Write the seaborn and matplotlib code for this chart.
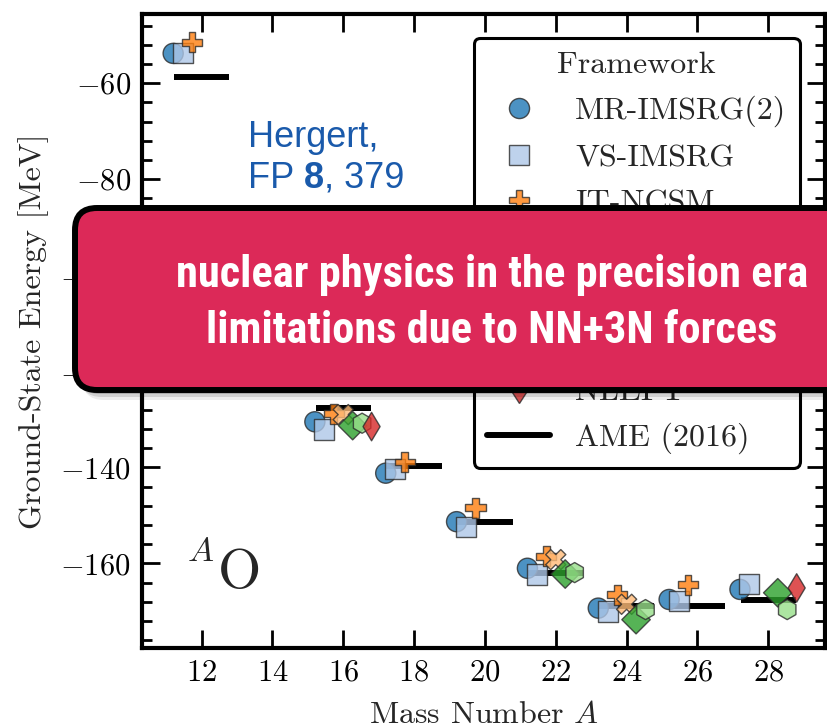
import numpy as np
import pandas as pd
import matplotlib
matplotlib.use("Agg")
import matplotlib.pyplot as plt
import seaborn as sns
from matplotlib.patches import FancyBboxPatch
from matplotlib.lines import Line2D
from matplotlib.ticker import MultipleLocator, AutoMinorLocator
from matplotlib.transforms import IdentityTransform

# ---------------- data ----------------
nan = np.nan
mass_numbers = [12, 14, 16, 18, 20, 22, 24, 26, 28]
mr_imsrg2 = [-53.8, -100.5, -130.5, -141.2, -151.3, -161.0, -169.3, -167.5, -165.4]
vs_imsrg = [-53.8, -101.5, -132.1, -140.4, -152.4, -162.3, -170.0, -167.9, -164.2]
it_ncsm = [-51.5, -97.0, -128.8, -138.9, -148.4, -158.5, -166.5, -164.4, nan]
cc = [nan, nan, -129.0, nan, nan, -159.2, -168.5, nan, nan]
scgf = [nan, nan, -131.3, nan, nan, -162.2, -171.7, nan, -166.1]
bmbpt = [nan, nan, -130.8, nan, nan, -161.9, -169.6, nan, -169.6]
nleft = [nan, nan, -131.5, nan, nan, nan, nan, nan, -165.1]
ame2016 = [-58.8, -98.7, -127.6, -139.8, -151.4, -162.0, -168.8, -168.9, -167.7]

frameworks = ["MR-IMSRG(2)", "VS-IMSRG", "IT-NCSM", "CCSD(T)", "ADC(3)", "BMBPT(3)", "NLEFT"]
series = [mr_imsrg2, vs_imsrg, it_ncsm, cc, scgf, bmbpt, nleft]

# ---------------- style ----------------
colors = ["#1f77b4", "#aec7e8", "#ff7f0e", "#ffbb78", "#2ca02c", "#98df8a", "#d62728"]
markers = ["o", "s", "P", "X", "D", "h", "d"]
dodge = np.linspace(-0.8, 0.8, len(frameworks))

sns.set_style("ticks")
plt.rcParams.update({
    "font.family": "serif",
    "font.serif": ["cmr10"],
    "mathtext.fontset": "cm",
    "axes.formatter.use_mathtext": True,
    "axes.unicode_minus": True,
})

rows = []
for fw, vals, off in zip(frameworks, series, dodge):
    for A, E in zip(mass_numbers, vals):
        if not np.isnan(E):
            rows.append({"Framework": fw, "A": A, "xpos": A + off, "E": E})
df = pd.DataFrame(rows)

W, H = 827, 728
fig = plt.figure(figsize=(W / 100, H / 100), dpi=100)
ax = fig.add_axes([142 / W, 1 - 648 / H, (825 - 142) / W, (648 - 14) / H])

ax.hlines(ame2016, np.array(mass_numbers) - 0.78, np.array(mass_numbers) + 0.78,
          color="black", lw=4.3, zorder=2)

sns.scatterplot(data=df, x="xpos", y="E", hue="Framework", style="Framework",
                hue_order=frameworks, style_order=frameworks,
                palette=dict(zip(frameworks, colors)),
                markers=dict(zip(frameworks, markers)),
                s=210, alpha=0.8, edgecolor="#2b2b2b", linewidth=1.0,
                ax=ax, zorder=3, legend="full")

ax.set_xlim(10.32, 29.6)
ax.set_ylim(-177.6, -45.6)
ax.xaxis.set_major_locator(MultipleLocator(2))
ax.yaxis.set_major_locator(MultipleLocator(20))
ax.yaxis.set_minor_locator(AutoMinorLocator(5))
ax.tick_params(which="both", direction="in", top=True, right=True, width=2.0,
               labelsize=22, colors="black")
ax.tick_params(which="major", length=13, pad=8)
ax.tick_params(which="minor", length=7)
for sp in ax.spines.values():
    sp.set_linewidth(3)
    sp.set_color("black")

ax.set_xlabel("Mass Number $A$", fontsize=23, labelpad=11)
ax.set_ylabel("Ground-State Energy [MeV]", fontsize=23, labelpad=8)

# legend
old = ax.get_legend()
handles = list(old.legend_handles)
labels = [t.get_text() for t in old.get_texts()]
old.remove()
handles.append(Line2D([], [], color="black", lw=4.3))
labels.append("AME (2016)")
leg = ax.legend(handles, labels, title="Framework", loc="upper right",
                bbox_to_anchor=(0.963, 0.962), borderaxespad=0,
                fontsize=23, title_fontsize=23, frameon=True, fancybox=True,
                framealpha=1, edgecolor="black", handlelength=1.97,
                handletextpad=0.78, labelspacing=0.52, borderpad=0.42)
leg.get_frame().set_linewidth(2.2)
leg.set_zorder(5)

# annotation texts
blue = "#1a5aab"
sans = ["Liberation Sans", "Arial", "DejaVu Sans"]
fig.text(248 / W, 1 - 146.7 / H, "Hergert,", color=blue, fontsize=26,
         family=sans, ha="left", va="baseline")
t_fp = fig.text(248 / W, 1 - 188 / H, "FP ", color=blue, fontsize=26,
                family=sans, ha="left", va="baseline")
t_8 = ax.annotate("8", xy=(1, 0), xycoords=t_fp, ha="left", va="bottom",
                  color=blue, fontsize=26, family=sans, fontweight="bold",
                  annotation_clip=False)
ax.annotate(", 379", xy=(1, 0), xycoords=t_8, ha="left", va="bottom",
            color=blue, fontsize=26, family=sans, annotation_clip=False)

fig.text(239 / W, 1 - 588 / H, "O", fontsize=40, family="cmr10",
         ha="center", va="baseline")
fig.text(187 / W, 1 - 561 / H, "$A$", fontsize=25, ha="left", va="baseline")

# banner overlay
bx0, by0, bx1, by1 = 75, 728 - 390, 900, 728 - 208
for dx, dy, a in [(3, -4, 0.18), (5, -7, 0.12), (7, -10, 0.07)]:
    sh = FancyBboxPatch((bx0 + dx, by0 + dy), bx1 - bx0, by1 - by0,
                        boxstyle="round,pad=0,rounding_size=22",
                        transform=IdentityTransform(), facecolor="black",
                        edgecolor="none", alpha=a, zorder=9)
    fig.add_artist(sh)
banner = FancyBboxPatch((bx0, by0), bx1 - bx0, by1 - by0,
                        boxstyle="round,pad=0,rounding_size=22",
                        transform=IdentityTransform(), facecolor="#dc2958",
                        edgecolor="black", linewidth=4.3, zorder=10)
fig.add_artist(banner)
narrow = ["Liberation Sans Narrow", "Roboto Condensed", "Roboto", "DejaVu Sans"]
fig.text(492 / W, 1 - 275 / H, "nuclear physics in the precision era",
         color="white", fontsize=32, fontweight="bold", family=narrow,
         ha="center", va="center", zorder=11)
fig.text(492 / W, 1 - 331 / H, "limitations due to NN+3N forces",
         color="white", fontsize=32, fontweight="bold", family=narrow,
         ha="center", va="center", zorder=11)

fig.savefig("out.png", dpi=100)
